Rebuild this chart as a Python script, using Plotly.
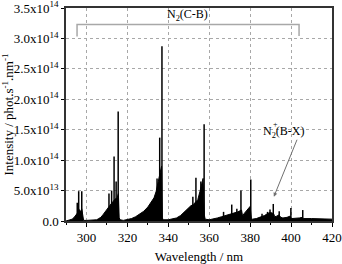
import plotly.graph_objects as go

# Envelope of the dense band structure (wavelength nm, intensity in 1e14 phot/s/nm)
env_wl = [290, 291, 292, 293, 294, 295, 295.8, 296.2, 297, 297.7, 298.2, 298.6, 300, 303,
          305, 306, 307, 308, 309, 310, 311, 312, 313, 314, 315, 315.6, 316, 316.5, 318,
          320, 322, 324, 326, 328, 330, 331.5, 333, 334, 335, 336, 336.7, 337.1, 337.5,
          340, 342, 344, 346, 348, 349.8, 351, 352.2, 353, 354.4, 355.5, 356.3, 357, 357.6,
          358, 360, 362, 364, 366, 368, 370, 372, 374, 375.8, 376.3, 377, 378, 379, 380,
          380.6, 381, 383, 385, 387, 389, 390, 391.5, 392, 393, 394, 395, 396, 398, 399.5,
          400.2, 402, 404, 405.6, 406, 410, 415, 420]
env_int = [0.0, 0.01, 0.02, 0.03, 0.06, 0.10, 0.14, 0.20, 0.15, 0.20, 0.05, 0.01, 0.01, 0.01,
           0.02, 0.04, 0.06, 0.10, 0.15, 0.20, 0.25, 0.28, 0.32, 0.36, 0.38, 0.45, 0.05, 0.02, 0.01,
           0.02, 0.04, 0.07, 0.11, 0.16, 0.23, 0.30, 0.38, 0.48, 0.62, 0.80, 0.90, 0.05, 0.02,
           0.02, 0.03, 0.05, 0.09, 0.15, 0.22, 0.25, 0.27, 0.30, 0.35, 0.49, 0.62, 0.70, 0.10,
           0.03, 0.02, 0.03, 0.05, 0.07, 0.09, 0.11, 0.12, 0.15, 0.18, 0.08, 0.12, 0.16, 0.20, 0.24,
           0.04, 0.03, 0.04, 0.06, 0.09, 0.13, 0.14, 0.12, 0.07, 0.08, 0.10, 0.06, 0.05, 0.06, 0.08,
           0.04, 0.04, 0.05, 0.06, 0.04, 0.04, 0.04, 0.03]

# Sharp band heads / lines
peak_wl = [295.5, 296.2, 297.7, 311.0, 312.3, 313.5, 314.5, 315.5, 334.5, 335.8, 336.9,
           352.0, 353.5, 355.9, 357.5, 367.0, 371.0, 373.5, 375.5, 380.3, 385.8, 388.5,
           389.7, 391.3, 394.2, 399.9, 405.7]
peak_int = [0.30, 0.49, 0.49, 0.45, 0.50, 1.06, 0.65, 1.80, 0.70, 1.37, 2.87,
            0.40, 0.71, 0.65, 1.59, 0.15, 0.27, 0.20, 0.50, 0.68, 0.12, 0.15,
            0.19, 0.28, 0.16, 0.215, 0.18]

SCALE = 1e14
y_ticks = [0, 0.5e14, 1.0e14, 1.5e14, 2.0e14, 2.5e14, 3.0e14, 3.5e14]
y_ticktext = ["0.0", "5.0x10<sup>13</sup>", "1.0x10<sup>14</sup>", "1.5x10<sup>14</sup>",
              "2.0x10<sup>14</sup>", "2.5x10<sup>14</sup>", "3.0x10<sup>14</sup>",
              "3.5x10<sup>14</sup>"]
x_ticks = [300, 320, 340, 360, 380, 400, 420]

FONT = "Liberation Serif"

fig = go.Figure()
fig.add_trace(go.Scatter(x=env_wl, y=[v * SCALE for v in env_int], mode="lines",
                         fill="tozeroy", fillcolor="black",
                         line=dict(color="black", width=1), hoverinfo="skip",
                         showlegend=False))
sx, sy = [], []
for w, h in zip(peak_wl, peak_int):
    sx += [w, w, None]
    sy += [0, h * SCALE, None]
fig.add_trace(go.Scatter(x=sx, y=sy, mode="lines", line=dict(color="black", width=1.5),
                         showlegend=False, hoverinfo="skip"))

# Bracket over N2(C-B) region
br_left, br_right = 295.4, 403.9
br_top, br_left_bot, br_right_bot = 3.23e14, 3.03e14, 3.04e14
fig.add_shape(type="path", xref="x", yref="y",
              path=f"M {br_left},{br_left_bot} L {br_left},{br_top} L {br_right},{br_top} L {br_right},{br_right_bot}",
              line=dict(color="#a8a8a8", width=1.5))

fig.add_annotation(x=349.6, y=3.39e14, xref="x", yref="y", text="N<sub>2</sub>(C-B)",
                   showarrow=False, font=dict(family=FONT, size=12, color="black"))
fig.add_annotation(x=396.5, y=1.47e14, xref="x", yref="y",
                   text="N<sub>2</sub>(B-X)",
                   showarrow=False, font=dict(family=FONT, size=12, color="black"))
fig.add_annotation(x=396.5, y=1.47e14, xref="x", yref="y", xshift=-8, yshift=7,
                   text="+", showarrow=False, font=dict(family=FONT, size=8, color="black"))
fig.add_annotation(x=391.6, y=0.40e14, ax=403.2, ay=1.36e14, xref="x", yref="y",
                   axref="x", ayref="y", text="", showarrow=True, arrowhead=2,
                   arrowsize=0.8, arrowwidth=1, arrowcolor="#707070")

fig.update_layout(
    width=342, height=264,
    margin=dict(l=66, r=10, t=8, b=43),
    paper_bgcolor="white", plot_bgcolor="white",
    font=dict(family=FONT, size=13, color="black"),
)
fig.update_xaxes(range=[290, 420], tickvals=x_ticks, ticks="outside", ticklen=4,
                 tickwidth=1, tickcolor="black", automargin=False, ticklabeloverflow="allow",
                 minor=dict(dtick=10, tick0=290, ticks="outside", ticklen=2, tickcolor="black", showgrid=False),
                 showline=True, linecolor="#333333", linewidth=1.5, mirror=True,
                 showgrid=True, gridcolor="#a8a8a8", griddash="dot", gridwidth=1,
                 zeroline=False,
                 title=dict(text="Wavelength / nm", font=dict(family=FONT, size=13), standoff=10),
                 tickfont=dict(family=FONT, size=13))
fig.update_yaxes(range=[0, 3.5e14], tickvals=y_ticks, ticktext=y_ticktext, ticks="outside",
                 ticklen=3, tickwidth=1, tickcolor="black", automargin=False, ticklabeloverflow="allow",
                 showline=True, linecolor="#333333", linewidth=1.5, mirror=True,
                 showgrid=True, gridcolor="#a8a8a8", griddash="dot", gridwidth=1,
                 zeroline=False,
                 title=dict(text="Intensity / phot.s<sup>-1</sup>.nm<sup>-1</sup>",
                            font=dict(family=FONT, size=13), standoff=3),
                 tickfont=dict(family=FONT, size=13))

fig.write_html("out.html", config={"displayModeBar": False},
               post_script="document.body.style.margin='0';")
